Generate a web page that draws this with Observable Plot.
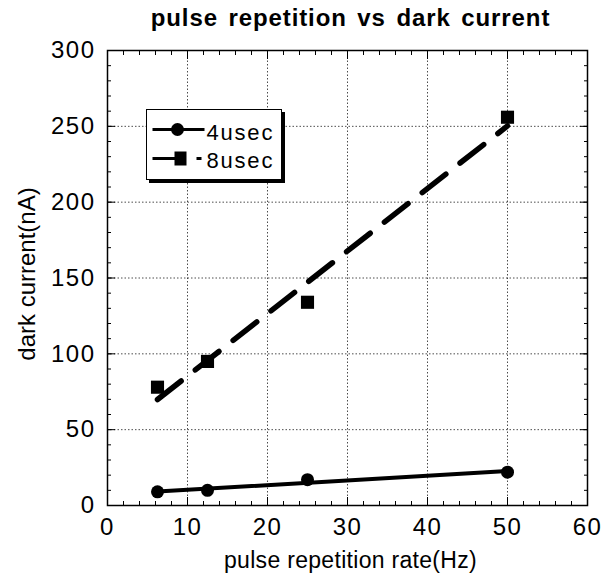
<!DOCTYPE html>
<html>
<head>
<meta charset="utf-8">
<script src="https://cdn.jsdelivr.net/npm/d3@7"></script>
<script src="https://cdn.jsdelivr.net/npm/@observablehq/plot@0.6"></script>
<style>
  body { margin: 0; background: #fff; }
  #wrap { position: relative; width: 615px; height: 574px; font-family: "Liberation Sans", Arial, sans-serif; }
  #legend { position: absolute; left: 146px; top: 109px; width: 134px; height: 69px;
            border: 1.5px solid #000; box-shadow: 3px 3px 0 #000; background: #fff; }
  g[aria-label="x-axis tick label"] text, g[aria-label="y-axis tick label"] text {
    font-size: 24px; letter-spacing: 1.5px;
  }
</style>
</head>
<body>
<div id="wrap"></div>
<script>
const titleText = "pulse repetition vs dark current";
const xLabel = "pulse repetition rate(Hz)";
const yLabel = "dark current(nA)";
const seriesNames = ["4usec", "8usec"];
const rates = [6.25, 12.5, 25, 50];
const current4 = [9, 10, 17, 22];
const current8 = [78, 95, 134, 256];
const xTicks = [0, 10, 20, 30, 40, 50, 60];
const yTicks = [0, 50, 100, 150, 200, 250, 300];
const xMinor = d3.range(0, 61, 2);
const yMinor = d3.range(0, 301, 10);

const d4 = rates.map((r, i) => ({x: r, y: current4[i]}));
const d8 = rates.map((r, i) => ({x: r, y: current8[i]}));

const font = "Liberation Sans, Arial, sans-serif";
const blank = () => "";

const chart = Plot.plot({
  width: 615,
  height: 574,
  marginLeft: 107,
  marginRight: 28,
  marginTop: 50,
  marginBottom: 69,
  style: {fontFamily: font, fontSize: "24px", color: "#000", background: "#fff"},
  x: {domain: [0, 60], axis: null},
  y: {domain: [0, 300], axis: null},
  marks: [
    Plot.gridX(xTicks.slice(1, -1), {stroke: "#000", strokeOpacity: 0.7, strokeDasharray: "1.5,2"}),
    Plot.gridY(yTicks.slice(1, -1), {stroke: "#000", strokeOpacity: 0.7, strokeDasharray: "1.5,2"}),
    // minor ticks inside
    Plot.axisX({ticks: xMinor, anchor: "bottom", tickSize: -4, tickFormat: blank, label: null, stroke: "#000"}),
    Plot.axisX({ticks: xMinor, anchor: "top", tickSize: -4, tickFormat: blank, label: null, stroke: "#000"}),
    Plot.axisY({ticks: yMinor, anchor: "left", tickSize: -4, tickFormat: blank, label: null, stroke: "#000"}),
    Plot.axisY({ticks: yMinor, anchor: "right", tickSize: -4, tickFormat: blank, label: null, stroke: "#000"}),
    // major ticks + labels
    Plot.axisX({ticks: xTicks, anchor: "bottom", tickSize: -8, tickPadding: 20, fontSize: 24, label: null,
      stroke: "#000", tickFormat: d => d}),
    Plot.axisX({ticks: xTicks, anchor: "top", tickSize: -8, tickFormat: blank, label: null, stroke: "#000"}),
    Plot.axisY({ticks: yTicks, anchor: "left", tickSize: -8, tickPadding: 20, fontSize: 24, label: null,
      stroke: "#000", tickFormat: d => d}),
    Plot.axisY({ticks: yTicks, anchor: "right", tickSize: -8, tickFormat: blank, label: null, stroke: "#000"}),
    Plot.frame({stroke: "#000", strokeWidth: 1.5}),
    Plot.linearRegressionY(d4, {x: "x", y: "y", ci: 0, stroke: "#000", strokeWidth: 4}),
    Plot.linearRegressionY(d8, {x: "x", y: "y", ci: 0, stroke: "#000", strokeWidth: 5.5,
      strokeDasharray: "30,18", strokeLinecap: "round"}),
    Plot.dot(d4, {x: "x", y: "y", r: 6.5, fill: "#000", stroke: "none"}),
    Plot.dot(d8, {x: "x", y: "y", r: 7.4, symbol: "square", fill: "#000", stroke: "none"}),
    Plot.text([titleText], {frameAnchor: "top", lineAnchor: "middle", textAnchor: "middle", dx: 3, dy: -32,
      text: d => d, fontSize: 24, fontWeight: "bold", fill: "#000"}),
    Plot.text([xLabel], {frameAnchor: "bottom", lineAnchor: "middle", textAnchor: "middle", dx: 3, dy: 55,
      text: d => d, fontSize: 23, fill: "#000"}),
    Plot.text([yLabel], {frameAnchor: "left", lineAnchor: "middle", textAnchor: "middle", dx: -80, dy: -4,
      rotate: -90, text: d => d, fontSize: 24, fill: "#000"})
  ]
});

// text spacing tweaks
chart.querySelectorAll("text").forEach(t => {
  const s = t.textContent;
  if (s === titleText) { t.style.letterSpacing = "0.9px"; t.style.wordSpacing = "3px"; }
  else if (s === xLabel) { t.style.letterSpacing = "0.3px"; }
});

const wrap = document.getElementById("wrap");
wrap.appendChild(chart);

// legend overlay
const legend = document.createElement("div");
legend.id = "legend";
legend.innerHTML = `
<svg width="134" height="69" style="position:absolute;left:0;top:0;font-family:${font}">
  <line x1="5.5" x2="57.5" y1="19.5" y2="19.5" stroke="#000" stroke-width="3"/>
  <circle cx="30.5" cy="19.5" r="6.5" fill="#000"/>
  <text x="59.5" y="30" font-size="22" fill="#000" style="letter-spacing:1.8px">${seriesNames[0]}</text>
  <line x1="5.5" x2="30" y1="48.5" y2="48.5" stroke="#000" stroke-width="3"/>
  <rect x="27.5" y="41.5" width="12" height="14" fill="#000"/>
  <line x1="49.5" x2="54.5" y1="48.5" y2="48.5" stroke="#000" stroke-width="3"/>
  <text x="59.5" y="58" font-size="22" fill="#000" style="letter-spacing:1.8px">${seriesNames[1]}</text>
</svg>`;
wrap.appendChild(legend);
</script>
</body>
</html>
